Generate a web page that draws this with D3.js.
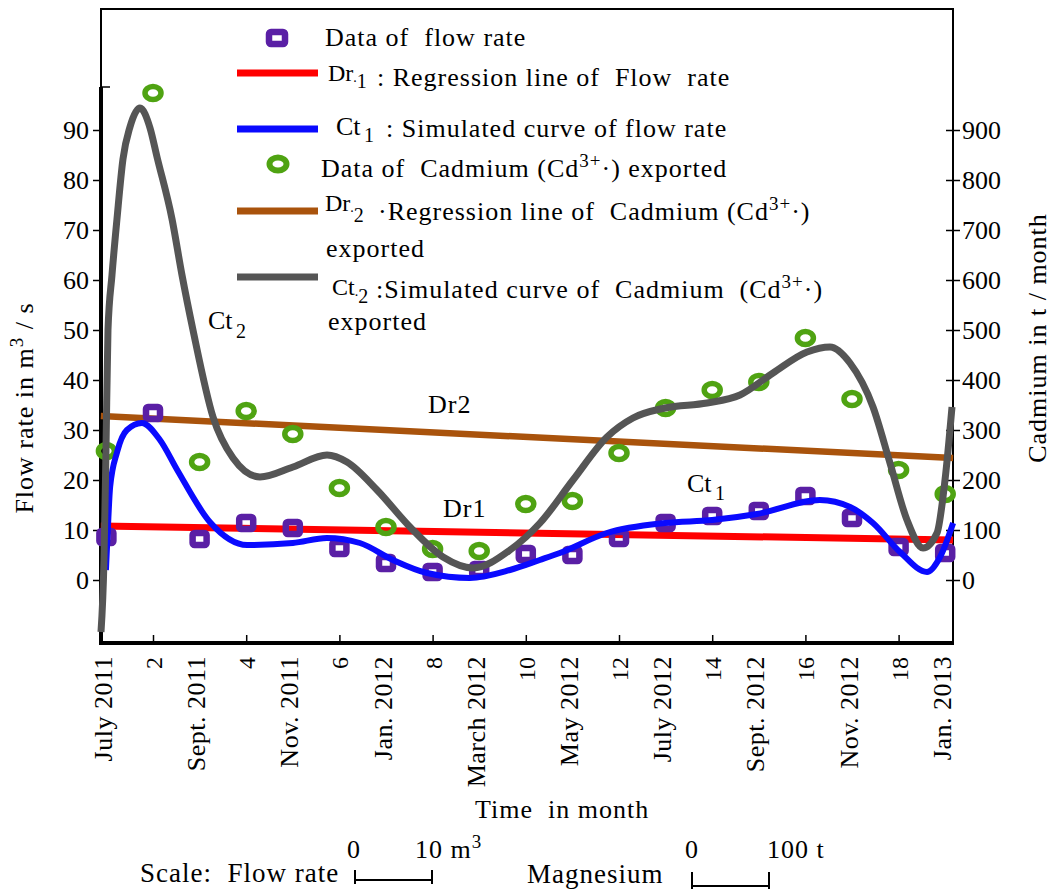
<!DOCTYPE html>
<html><head><meta charset="utf-8">
<script src="https://cdn.jsdelivr.net/npm/d3@7"></script>
<style>
html,body{margin:0;padding:0;background:#fff;}
svg text{font-family:"Liberation Serif","Times New Roman",serif;white-space:pre;fill:#000;}
</style></head><body>
<svg id="chart" width="1057" height="890"></svg>
<script>
// ---------------- DATA ----------------
const months = [1,2,3,4,5,6,7,8,9,10,11,12,13,14,15,16,17,18,19];
const flowRate = [8.6,33.4,8.2,11.4,10.4,6.4,3.4,1.6,2.0,5.2,5.0,8.4,11.4,12.8,13.8,16.8,12.4,6.6,5.4];
const cadmium = [258,974,236,338,292,184,106,62,58,152,158,254,344,380,396,484,362,220,172];

const dr1Months = [0.88, 19.17];
const dr1Values = [10.8, 8.0];
const dr2Months = [0.88, 19.17];
const dr2Values = [328, 244];

const ct1Months = [0.99,1.03,1.08,1.23,1.44,1.76,2.15,2.52,3.22,4.02,5.00,5.73,6.44,7.15,7.88,8.80,9.66,10.30,10.73,11.74,12.99,14.00,14.96,16.31,16.96,17.45,18.03,18.61,18.89,19.17];
const ct1Values = [2.0,10.0,18.6,25.6,30.0,31.4,28.0,22.0,11.6,7.0,7.4,8.4,7.4,4.0,1.4,0.4,2.0,4.0,5.4,9.4,11.4,12.0,13.2,16.0,14.6,11.4,5.6,1.6,4.6,11.4];

const ct2Months = [0.884,0.948,0.991,1.034,1.120,1.227,1.356,1.506,1.721,1.936,2.086,2.408,2.622,2.858,3.288,3.717,4.296,5.004,5.734,6.163,6.807,7.515,8.223,8.867,9.661,10.305,11.013,11.742,12.300,12.987,13.888,14.597,15.305,16.034,16.528,16.957,17.451,17.815,18.180,18.524,18.824,18.996,19.146];
const ct2Values = [-104,40,260,500,610,722,842,906,944,904,846,722,610,500,326,244,206,226,250,236,180,106,46,24,60,114,200,286,324,344,354,370,414,456,466,434,346,234,120,64,94,200,346];

const leftTicks = [0,10,20,30,40,50,60,70,80,90];
const rightTicks = [0,100,200,300,400,500,600,700,800,900];
const evenMonthTicks = [2,4,6,8,10,12,14,16,18];
const oddMonthTicks = [1,3,5,7,9,11,13,15,17,19];
const monthLabels = ["July 2011","Sept. 2011","Nov. 2011","Jan. 2012","March 2012","May 2012","July 2012","Sept. 2012","Nov. 2012","Jan. 2013"];

// ---------------- LAYOUT ----------------
const C = {purple:"#5a1fa5", green:"#4fa312", red:"#ff0000", blue:"#0a0aff", brown:"#a9530c", gray:"#555555"};
const frame = {left:101, right:953, top:9, bottom:643};
const svg = d3.select("#chart");

const x = d3.scaleLinear().domain([1,19]).range([106.4,945.2]);
const yL = d3.scaleLinear().domain([0,90]).range([580,130]);
const yR = d3.scaleLinear().domain([0,900]).range([580,130]);

// frame
svg.append("path").attr("d",`M${frame.left},${yL(98.6)}V${frame.top}H${frame.right}V${frame.bottom}`)
  .attr("fill","none").attr("stroke","#000").attr("stroke-width",2);
svg.append("line").attr("x1",frame.left).attr("x2",frame.left).attr("y1",yL(98.6)).attr("y2",frame.bottom+2)
  .attr("stroke","#000").attr("stroke-width",4);
svg.append("line").attr("x1",frame.left).attr("x2",frame.left+9).attr("y1",yL(98.6)).attr("y2",yL(98.6))
  .attr("stroke","#000").attr("stroke-width",1.5);
svg.append("line").attr("x1",frame.left-2).attr("x2",frame.right+1).attr("y1",frame.bottom).attr("y2",frame.bottom)
  .attr("stroke","#000").attr("stroke-width",4);

// left axis
const gL = svg.append("g").attr("transform",`translate(${frame.left},0)`)
  .call(d3.axisLeft(yL).tickValues(leftTicks).tickSize(8).tickPadding(4).tickSizeOuter(0));
gL.select(".domain").remove();
gL.selectAll(".tick line").attr("stroke","#000").attr("stroke-width",1.5);
gL.selectAll(".tick text").attr("font-size",26).attr("font-family","Liberation Serif").attr("fill","#000");

// right axis
const gR = svg.append("g").attr("transform",`translate(${frame.right},0)`)
  .call(d3.axisRight(yR).tickValues(rightTicks).tickSize(7).tickPadding(2).tickSizeOuter(0));
gR.select(".domain").remove();
gR.selectAll(".tick line").attr("x1",-7).attr("stroke","#000").attr("stroke-width",1.5);
gR.selectAll(".tick text").attr("font-size",26).attr("font-family","Liberation Serif").attr("fill","#000");

// bottom axis: even month numbers
const gB = svg.append("g").attr("transform",`translate(0,${frame.bottom})`)
  .call(d3.axisBottom(x).tickValues(evenMonthTicks).tickSize(-8).tickSizeOuter(0));
gB.select(".domain").remove();
gB.selectAll(".tick line").attr("stroke","#000").attr("stroke-width",1.5);
gB.selectAll(".tick text").attr("font-size",24).attr("font-family","Liberation Serif").attr("fill","#000")
  .attr("transform","rotate(-90)").attr("text-anchor","end").attr("x",-14).attr("y",0).attr("dy","0.35em");

// bottom axis: month names
const gM = svg.append("g").attr("transform",`translate(0,${frame.bottom})`)
  .call(d3.axisBottom(x).tickValues(oddMonthTicks).tickSize(0).tickFormat((d,i)=>monthLabels[i]));
gM.select(".domain").remove();
gM.selectAll(".tick text").attr("font-size",26).attr("font-family","Liberation Serif").attr("fill","#000")
  .style("letter-spacing","0.5px")
  .attr("transform","rotate(-90)").attr("text-anchor","end").attr("x",-13).attr("y",-4).attr("dy","0.35em");

// regression lines
const line2 = (sx, sy) => d3.line().x(d=>sx(d[0])).y(d=>sy(d[1]));
svg.append("path").datum(d3.zip(dr1Months, dr1Values)).attr("d", line2(x,yL))
  .attr("fill","none").attr("stroke",C.red).attr("stroke-width",7);
svg.append("path").datum(d3.zip(dr2Months, dr2Values)).attr("d", line2(x,yR))
  .attr("fill","none").attr("stroke",C.brown).attr("stroke-width",6.5);

// markers
svg.append("g").selectAll("rect").data(d3.zip(months, flowRate)).join("rect")
  .attr("x",d=>x(d[0])-7).attr("y",d=>yL(d[1])-6).attr("width",14).attr("height",12).attr("rx",2)
  .attr("fill","none").attr("stroke",C.purple).attr("stroke-width",6.5);
svg.append("g").selectAll("ellipse").data(d3.zip(months, cadmium)).join("ellipse")
  .attr("cx",d=>x(d[0])).attr("cy",d=>yR(d[1])).attr("rx",8).attr("ry",6.5)
  .attr("fill","none").attr("stroke",C.green).attr("stroke-width",5.5);

// simulated curves
const curveLine = (sx, sy) => d3.line().x(d=>sx(d[0])).y(d=>sy(d[1])).curve(d3.curveMonotoneX);
svg.append("path").datum(d3.zip(ct1Months, ct1Values)).attr("d", curveLine(x,yL))
  .attr("fill","none").attr("stroke",C.blue).attr("stroke-width",6).attr("stroke-linejoin","round");
svg.append("path").datum(d3.zip(ct2Months, ct2Values)).attr("d", curveLine(x,yR))
  .attr("fill","none").attr("stroke",C.gray).attr("stroke-width",7).attr("stroke-linejoin","round");

// rich text helper: parts = [{t, size, x, y, dy, ls}]
function rich(parent, xp, yp, parts, size) {
  const base = size || 26;
  const t = parent.append("text").attr("x",xp).attr("y",yp).attr("font-size",base);
  parts.forEach(p => {
    const s = t.append("tspan").text(p.t).attr("font-size", p.size || base)
      .style("letter-spacing", (p.ls !== undefined ? p.ls : 1) + "px");
    if (p.x !== undefined) s.attr("x", p.x);
    if (p.y !== undefined) s.attr("y", p.y);
    if (p.dy !== undefined) s.attr("dy", p.dy);
  });
  return t;
}
const txt = (xp, yp, s, size) => rich(svg, xp, yp, [{t:s}], size);

// ---------------- LEGEND ----------------
svg.append("rect").attr("x",269).attr("y",32).attr("width",16).attr("height",12).attr("rx",2)
  .attr("fill","none").attr("stroke",C.purple).attr("stroke-width",6.5);
txt(325, 46, "Data of  flow rate");

svg.append("line").attr("x1",237).attr("x2",318).attr("y1",73).attr("y2",73).attr("stroke",C.red).attr("stroke-width",7);
rich(svg, 328, 81, [{t:"Dr",size:24,ls:0},{t:".",size:14,ls:0,dy:1},{t:"1",size:20,ls:0,dy:6},{t:": Regression line of  Flow  rate",x:377,y:86}]);

svg.append("line").attr("x1",237).attr("x2",318).attr("y1",129).attr("y2",129).attr("stroke",C.blue).attr("stroke-width",7);
rich(svg, 336, 135, [{t:"Ct",ls:0},{t:"1",size:20,x:364,y:142},{t:": Simulated curve of flow rate",x:386,y:137}]);

svg.append("ellipse").attr("cx",278).attr("cy",164).attr("rx",8.5).attr("ry",6.5)
  .attr("fill","none").attr("stroke",C.green).attr("stroke-width",6);
rich(svg, 321, 177, [{t:"Data of  Cadmium (Cd"},{t:"3+",size:19,dy:-10},{t:"·) exported",dy:10}]);

svg.append("line").attr("x1",237).attr("x2",318).attr("y1",211).attr("y2",211).attr("stroke",C.brown).attr("stroke-width",7);
rich(svg, 325, 211, [{t:"Dr",size:24,ls:0},{t:".",size:14,ls:0,dy:1},{t:"2",size:20,ls:0,dy:10},
  {t:"·Regression line of  Cadmium (Cd",x:378,y:220},{t:"3+",size:19,dy:-10},{t:"·)",dy:10}]);
txt(326, 257, "exported");

svg.append("line").attr("x1",237).attr("x2",318).attr("y1",277).attr("y2",277).attr("stroke",C.gray).attr("stroke-width",7);
rich(svg, 332, 295, [{t:"Ct",size:24,ls:0},{t:".",size:14,ls:0,dy:1},{t:"2",size:20,ls:0,dy:7},
  {t:":Simulated curve of  Cadmium  (Cd",x:376,y:298},{t:"3+",size:19,dy:-10},{t:"·)",dy:10}]);
txt(328, 330, "exported");

// ---------------- ANNOTATIONS ----------------
rich(svg, 208, 329, [{t:"Ct",ls:0},{t:"2",size:20,x:236,y:338}]);
txt(428, 413, "Dr2");
txt(443, 517, "Dr1");
rich(svg, 687, 492, [{t:"Ct",ls:0},{t:"1",size:20,x:715,y:500}]);

// ---------------- AXIS TITLES ----------------
const gTL = svg.append("g").attr("transform","translate(33,408) rotate(-90)");
rich(gTL, 0, 0, [{t:"Flow rate in m"},{t:"3",size:19,dy:-10},{t:" / s",dy:10}]).attr("text-anchor","middle");

svg.append("text").attr("transform","translate(1046,338) rotate(-90)").attr("text-anchor","middle")
  .attr("font-size",26).style("letter-spacing","1px").text("Cadmium in t / month");

txt(475, 818, "Time  in month");

// ---------------- SCALE ROW ----------------
txt(140, 882, "Scale:  Flow rate", 27);
txt(347, 858, "0");
rich(svg, 415, 858, [{t:"10 m"},{t:"3",size:19,dy:-10}]);
svg.append("path").attr("d","M355,870V884M355,880H432M432,870V884").attr("fill","none").attr("stroke","#000").attr("stroke-width",2);
txt(527, 883, "Magnesium", 27);
txt(685, 858, "0");
txt(767, 858, "100 t");
svg.append("path").attr("d","M692,872V889M692,886H769M769,872V889").attr("fill","none").attr("stroke","#000").attr("stroke-width",2);
</script>
</body></html>
